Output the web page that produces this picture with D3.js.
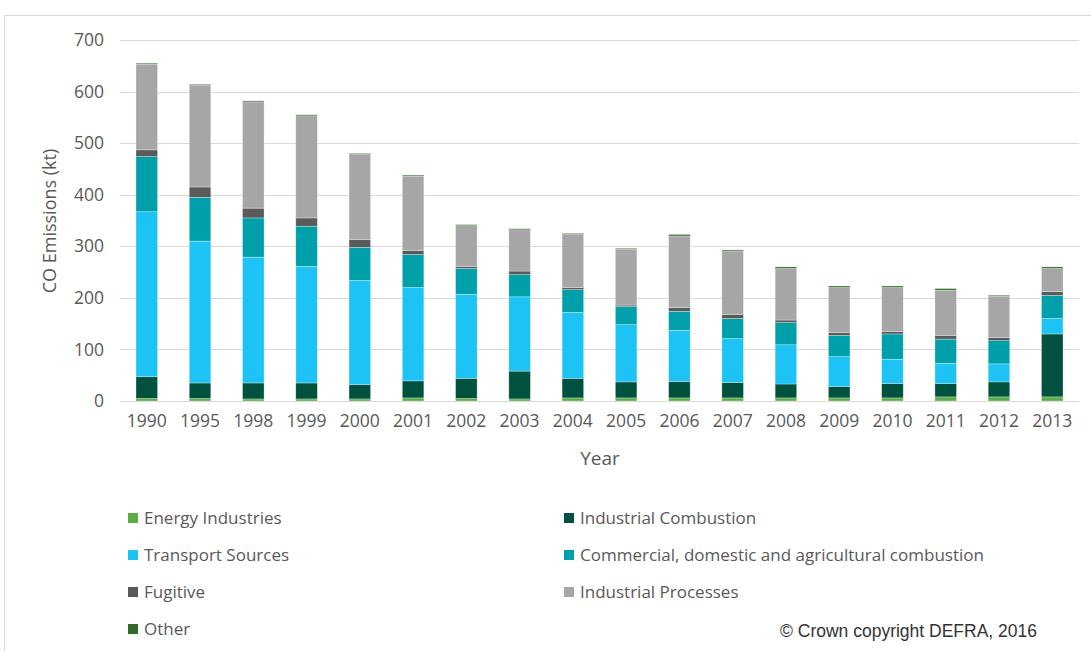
<!DOCTYPE html>
<html><head><meta charset="utf-8">
<script src="https://cdn.jsdelivr.net/npm/d3@7"></script>
<style>body{margin:0;background:#fff;}svg{display:block;}</style>
</head><body>
<svg id="chart" width="1091" height="651"></svg>
<script>
const years = ["1990","1995","1998","1999","2000","2001","2002","2003","2004","2005","2006","2007","2008","2009","2010","2011","2012","2013"];
const seriesNames = ["Energy Industries","Industrial Combustion","Transport Sources","Commercial, domestic and agricultural combustion","Fugitive","Industrial Processes","Other"];
const energyIndustries      = [5,5,4,4,4,6,5,4,6,6,6,6,6,6,6,8,8,8];
const industrialCombustion  = [42,30,31,31,28,33,39,54,38,31,32,30,27,22,28,26,29,122];
const transportSources      = [320,275,244,226,202,181,163,144,128,111,99,85,76,58,47,39,35,30];
const commercialDomestic    = [107,85,76,78,64,64,50,43,44,35,37,39,43,41,49,47,45,45];
const fugitive              = [13,20,19,16,15,8,4,7,4,3,7,8,5,6,5,7,6,7];
const industrialProcesses   = [166,197,206,198,165,144,79,80,103,108,139,123,100,87,85,88,80,45];
const other                 = [2,2,2,2,2,2,2,2,2,2,3,2,3,3,3,3,2,3];
const yTicks = [0,100,200,300,400,500,600,700];
const colors = ["#5aad47","#00523f","#1ec3f6","#00a0aa","#5a5a5a","#a6a6a6","#336b2a"];

const seriesData = [energyIndustries,industrialCombustion,transportSources,commercialDomestic,fugitive,industrialProcesses,other];
const rows = years.map((y,i)=>{const r={year:y}; seriesNames.forEach((n,k)=>r[n]=seriesData[k][i]); return r;});
const stack = d3.stack().keys(seriesNames)(rows);

const svg = d3.select("#chart");
const font = "'Open Sans', sans-serif";
// frame
svg.append("rect").attr("x",4.5).attr("y",15.5).attr("width",1100).attr("height",700)
  .attr("fill","none").attr("stroke","#d9d9d9");

const x = d3.scaleBand().domain(years).range([120,1079]).paddingInner(0.595).paddingOuter(0.3);
const y = d3.scaleLinear().domain([0,700]).range([401,40]);

// gridlines
svg.append("g").selectAll("line").data(yTicks).join("line")
  .attr("x1",120).attr("x2",1079).attr("y1",d=>Math.round(y(d))+0.5).attr("y2",d=>Math.round(y(d))+0.5)
  .attr("stroke","#d9d9d9").attr("stroke-width",1);

// y axis labels
const yAxis = d3.axisLeft(y).tickValues(yTicks).tickSize(0).tickPadding(0);
const gy = svg.append("g").attr("transform","translate(104,0)").call(yAxis);
gy.select(".domain").remove();
gy.selectAll("text").attr("font-family",font).attr("font-size",17.5).attr("fill","#595959");

// x axis labels
const xAxis = d3.axisBottom(x).tickSize(0).tickPadding(0);
const gx = svg.append("g").attr("transform","translate(0,417)").call(xAxis);
gx.select(".domain").remove();
gx.selectAll("text").attr("font-family",font).attr("font-size",17.5).attr("fill","#595959").attr("dy","0.55em");

// bars
svg.append("g").selectAll("g").data(stack).join("g")
  .attr("fill",(d,i)=>colors[i])
  .selectAll("rect").data(d=>d).join("rect")
  .attr("x",d=>x(d.data.year)).attr("width",x.bandwidth())
  .attr("y",d=>y(d[1])).attr("height",d=>y(d[0])-y(d[1]))
  .attr("stroke","#ffffff").attr("stroke-opacity",0.5).attr("stroke-width",0.6);

// axis titles
svg.append("text").attr("x",600).attr("y",465).attr("text-anchor","middle")
  .attr("font-family",font).attr("font-size",19).attr("fill","#595959").text("Year");
svg.append("text").attr("transform","translate(56,221) rotate(-90)").attr("text-anchor","middle")
  .attr("font-family",font).attr("font-size",18).attr("fill","#595959").text("CO Emissions (kt)");

// legend
const legendPos = [[128,518],[564,518],[128,555],[564,555],[128,592],[564,592],[128,629]];
const lg = svg.append("g").selectAll("g").data(seriesNames).join("g")
  .attr("transform",(d,i)=>`translate(${legendPos[i][0]},${legendPos[i][1]})`);
lg.append("rect").attr("x",0).attr("y",-5).attr("width",10).attr("height",10).attr("fill",(d,i)=>colors[i]);
lg.append("text").attr("x",16).attr("y",0).attr("dy","0.35em")
  .attr("font-family",font).attr("font-size",17).attr("fill","#595959").text(d=>d);

// copyright
svg.append("text").attr("x",780).attr("y",637).attr("font-family","'Liberation Sans', Arial, sans-serif")
  .attr("font-size",17.5).attr("fill","#333").text("© Crown copyright DEFRA, 2016");
</script>
</body></html>
